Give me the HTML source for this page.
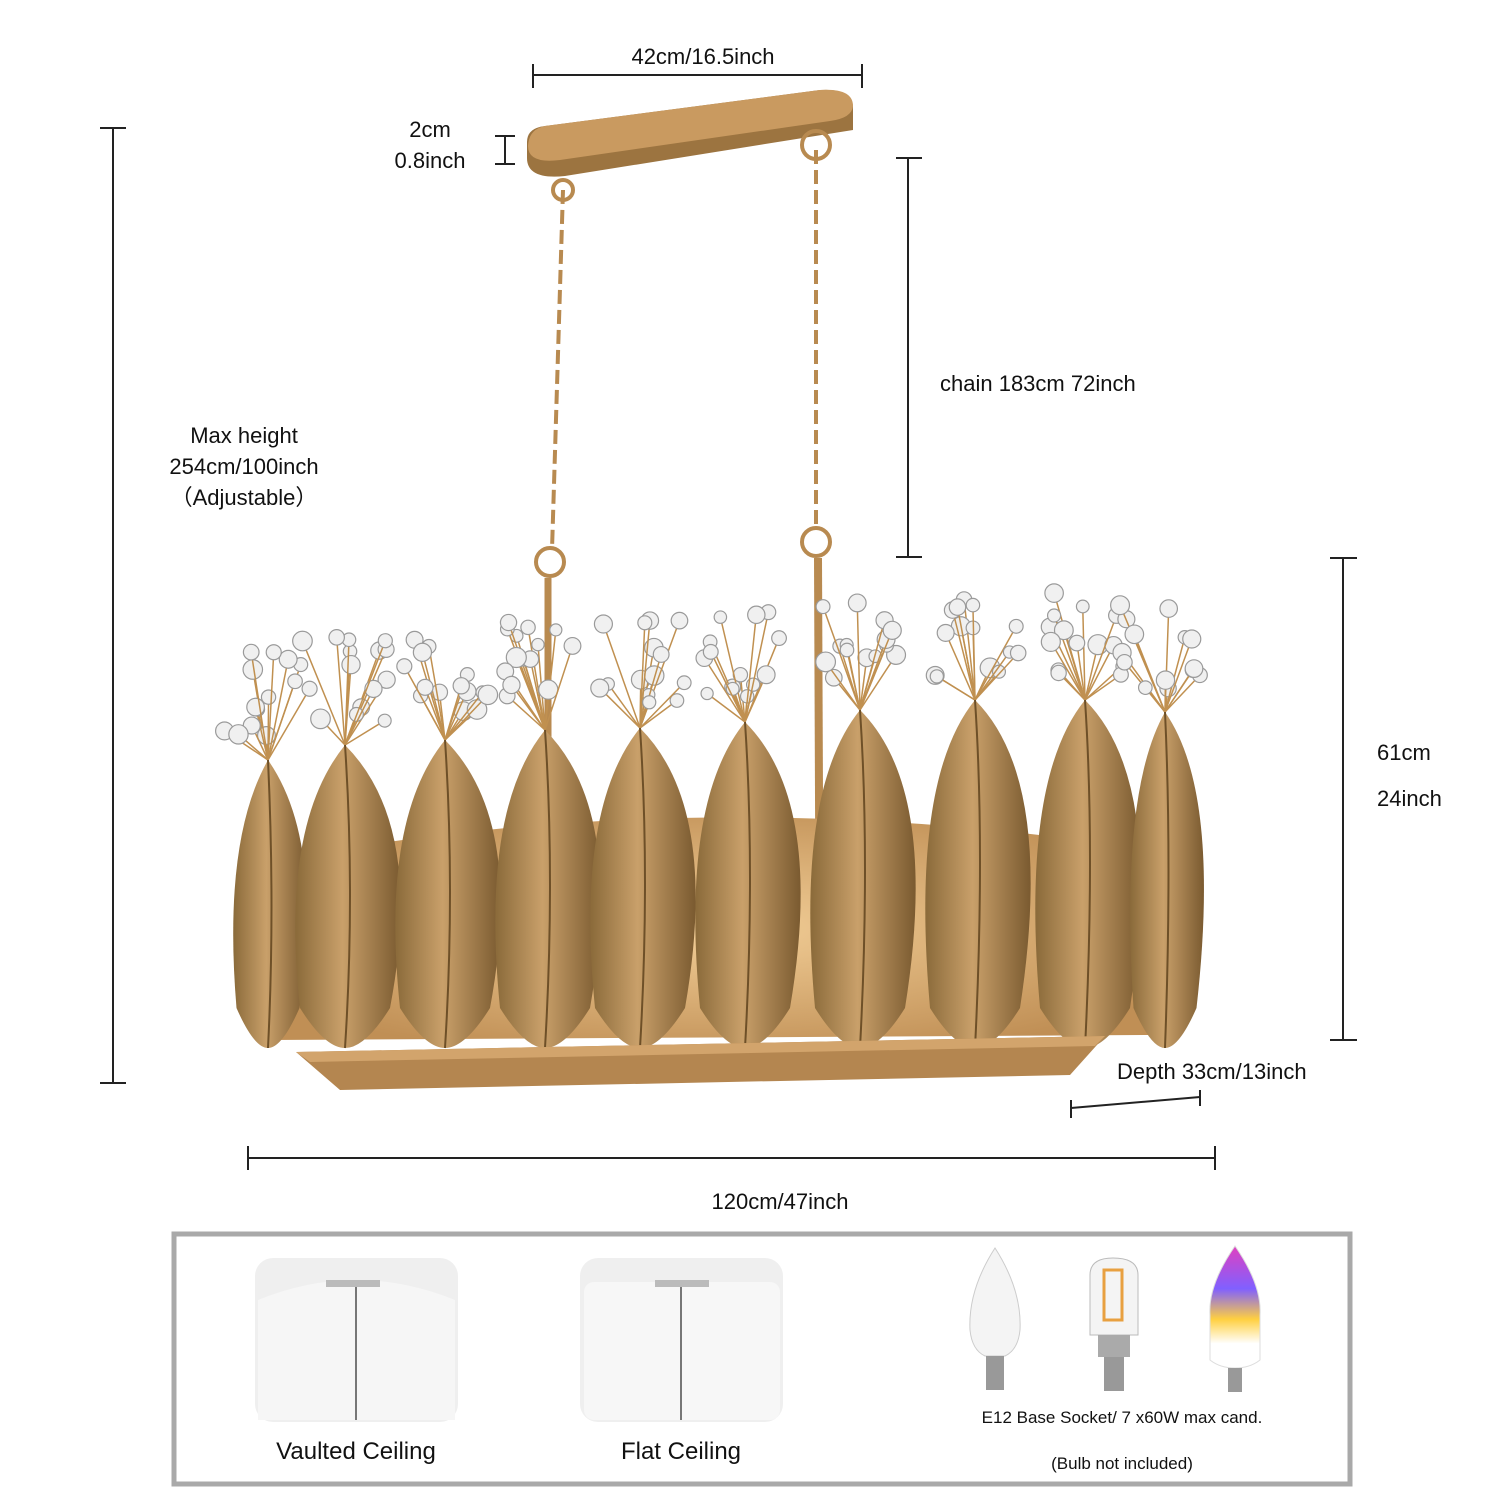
<!DOCTYPE html>
<html><head><meta charset="utf-8"><style>
html,body{margin:0;padding:0;background:#fff;}
svg{display:block}
text{font-family:"Liberation Sans",sans-serif;fill:#111}
</style></head><body>
<svg id="s" width="1500" height="1500" viewBox="0 0 1500 1500" xmlns="http://www.w3.org/2000/svg">
<defs>
<linearGradient id="gold" x1="0" y1="0" x2="1" y2="0">
<stop offset="0" stop-color="#8a6a3a"/><stop offset="0.45" stop-color="#c9a06a"/><stop offset="1" stop-color="#7a5a30"/></linearGradient>
<radialGradient id="glow" cx="0.5" cy="0.5" r="0.6"><stop offset="0" stop-color="#f3cf98"/><stop offset="1" stop-color="#c08f55"/></radialGradient>
<linearGradient id="rgb" x1="0" y1="0" x2="0" y2="1"><stop offset="0" stop-color="#e040c0"/><stop offset="0.35" stop-color="#8060ff"/><stop offset="0.6" stop-color="#ffd040"/><stop offset="0.8" stop-color="#fff"/></linearGradient>
</defs>
<g stroke="#222" stroke-width="2" fill="none">
<line x1="533" y1="75" x2="862" y2="75"/><line x1="533" y1="64" x2="533" y2="88"/><line x1="862" y1="64" x2="862" y2="88"/>
<line x1="505" y1="136" x2="505" y2="164"/><line x1="495" y1="136" x2="515" y2="136"/><line x1="495" y1="164" x2="515" y2="164"/>
<line x1="113" y1="128" x2="113" y2="1083"/><line x1="100" y1="128" x2="126" y2="128"/><line x1="100" y1="1083" x2="126" y2="1083"/>
<line x1="908" y1="158" x2="908" y2="557"/><line x1="896" y1="158" x2="922" y2="158"/><line x1="896" y1="557" x2="922" y2="557"/>
<line x1="1343" y1="558" x2="1343" y2="1040"/><line x1="1330" y1="558" x2="1357" y2="558"/><line x1="1330" y1="1040" x2="1357" y2="1040"/>
<line x1="1071" y1="1108" x2="1200" y2="1097"/><line x1="1071" y1="1100" x2="1071" y2="1118"/><line x1="1200" y1="1090" x2="1200" y2="1106"/>
<line x1="248" y1="1158" x2="1215" y2="1158"/><line x1="248" y1="1146" x2="248" y2="1170"/><line x1="1215" y1="1146" x2="1215" y2="1170"/>
</g>
<text x="703" y="64" font-size="22" text-anchor="middle">42cm/16.5inch</text>
<text x="430" y="137" font-size="22" text-anchor="middle">2cm</text>
<text x="430" y="168" font-size="22" text-anchor="middle">0.8inch</text>
<text x="244" y="443" font-size="22" text-anchor="middle">Max height</text>
<text x="244" y="474" font-size="22" text-anchor="middle">254cm/100inch</text>
<text x="244" y="505" font-size="22" text-anchor="middle">（Adjustable）</text>
<text x="940" y="391" font-size="22">chain 183cm 72inch</text>
<text x="1377" y="760" font-size="22">61cm</text>
<text x="1377" y="806" font-size="22">24inch</text>
<text x="1117" y="1079" font-size="22">Depth 33cm/13inch</text>
<text x="780" y="1209" font-size="22" text-anchor="middle">120cm/47inch</text>
<!-- canopy -->
<path d="M545 126 L820 90 Q853 88 853 108 L853 130 L565 176 Q527 180 527 158 L527 142 Q527 128 545 126Z" fill="#9c7440"/>
<path d="M545 126 L820 90 Q853 88 853 106 Q852 118 830 121 L560 160 Q528 164 528 146 Q529 129 545 126Z" fill="#c99a60"/>
<!-- chains -->
<g stroke="#b88a50" stroke-width="4" fill="none">
<path d="M563 190 L552 550" stroke-dasharray="14 6"/>
<path d="M816 150 L816 530" stroke-dasharray="14 6"/>
<circle cx="563" cy="190" r="10"/><circle cx="816" cy="145" r="14"/>
<circle cx="550" cy="562" r="14"/><circle cx="816" cy="542" r="14"/>
<line x1="548" y1="578" x2="548" y2="740" stroke-width="7"/>
<line x1="818" y1="558" x2="820" y2="1035" stroke-width="8"/>
</g>
<g id="crys"></g>
<g id="leaves"></g>
<path d="M296 1052 L1105 1036 L1070 1075 L340 1090Z" fill="#b48650"/>
<path d="M296 1052 L1105 1036 L1095 1046 L310 1062Z" fill="#d2a46c"/>
<!-- bottom box -->
<rect x="174" y="1234" width="1176" height="250" fill="none" stroke="#a9a9a9" stroke-width="5"/>
<rect x="255" y="1258" width="203" height="164" rx="18" fill="#efefef"/>
<path d="M258 1300 Q356 1260 455 1300 L455 1420 L258 1420Z" fill="#f6f6f6"/>
<rect x="326" y="1280" width="54" height="7" fill="#bbb"/><line x1="356" y1="1287" x2="356" y2="1420" stroke="#777" stroke-width="2"/>
<rect x="580" y="1258" width="203" height="164" rx="18" fill="#efefef"/>
<rect x="584" y="1282" width="196" height="138" rx="10" fill="#f7f7f7"/>
<rect x="655" y="1280" width="54" height="7" fill="#bbb"/><line x1="681" y1="1287" x2="681" y2="1420" stroke="#777" stroke-width="2"/>
<text x="356" y="1459" font-size="24" text-anchor="middle">Vaulted Ceiling</text>
<text x="681" y="1459" font-size="24" text-anchor="middle">Flat Ceiling</text>
<!-- bulbs -->
<path d="M995 1248 Q1022 1290 1020 1330 Q1018 1350 1005 1356 L985 1356 Q972 1350 970 1330 Q968 1290 995 1248Z" fill="#f4f4f4" stroke="#ccc"/>
<rect x="986" y="1356" width="18" height="34" fill="#999"/>
<path d="M1090 1275 Q1090 1258 1113 1258 Q1138 1258 1138 1275 L1138 1335 L1090 1335Z" fill="#f4f4f4" stroke="#bbb"/>
<rect x="1104" y="1270" width="18" height="50" fill="none" stroke="#e8a040" stroke-width="3"/>
<rect x="1098" y="1335" width="32" height="22" fill="#aaa"/><rect x="1104" y="1357" width="20" height="34" fill="#999"/>
<path d="M1235 1246 Q1262 1285 1260 1315 L1260 1360 Q1250 1368 1235 1368 Q1220 1368 1210 1360 L1210 1315 Q1208 1285 1235 1246Z" fill="url(#rgb)" stroke="#ddd"/>
<rect x="1228" y="1368" width="14" height="24" fill="#999"/>
<text x="1122" y="1423" font-size="17" text-anchor="middle">E12 Base Socket/ 7 x60W  max cand.</text>
<text x="1122" y="1469" font-size="17" text-anchor="middle">(Bulb not included)</text>
</svg>
<script>
var NS="http://www.w3.org/2000/svg";
var L=document.getElementById("leaves"),C=document.getElementById("crys");
function el(t,a,p){var e=document.createElementNS(NS,t);for(var k in a)e.setAttribute(k,a[k]);p.appendChild(e);return e;}
el("path",{d:"M270 1040 L280 860 Q700 780 1150 850 L1150 1035Z",fill:"url(#glow)"},L);
var tops=[[268,760],[345,745],[445,740],[545,730],[640,728],[745,722],[860,710],[975,700],[1085,700],[1165,712]];
var seed=3;function r(){seed=(seed*9301+49297)%233280;return seed/233280;}
tops.forEach(function(t,i){
  var cx=t[0],ty=t[1],w=(i==0||i==9)?70:100,by=1048;
  for(var k=0;k<14;k++){var x=cx-45+r()*90,y=ty-110+r()*90;
    el("line",{x1:cx,y1:ty,x2:x,y2:y,stroke:"#c09050","stroke-width":1.5},C);
    el("circle",{cx:x,cy:y,r:6+r()*4,fill:"#f0f0f0",stroke:"#9a9a9a","stroke-width":1.2},C);}
  el("path",{d:"M"+cx+" "+ty+" Q"+(cx+w*0.8)+" "+(ty+80)+" "+(cx+w*0.45)+" "+(by-40)+" Q"+(cx+w*0.2)+" "+by+" "+cx+" "+by+" Q"+(cx-w*0.2)+" "+by+" "+(cx-w*0.45)+" "+(by-40)+" Q"+(cx-w*0.65)+" "+(ty+80)+" "+cx+" "+ty+"Z",fill:"url(#gold)"},L);
  el("path",{d:"M"+cx+" "+ty+" Q"+(cx+w*0.1)+" "+(ty+150)+" "+cx+" "+by,stroke:"#6e5028","stroke-width":2,fill:"none"},L);
});
</script>
</body></html>
